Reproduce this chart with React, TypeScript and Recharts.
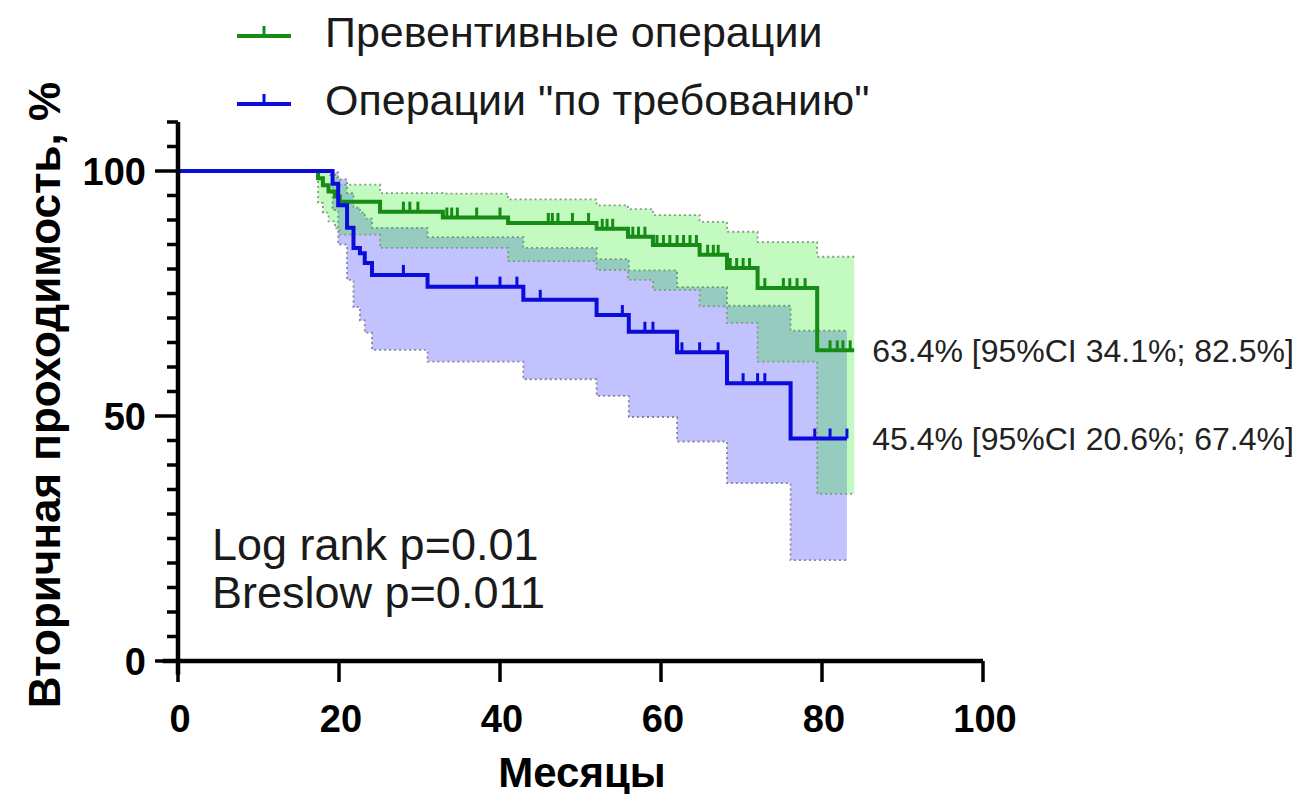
import React from 'react';
import { ComposedChart, Area, Line, Scatter, XAxis, YAxis, ReferenceLine, ReferenceDot } from 'recharts';

// Kaplan-Meier: preventive operations (green)
const greenTime = [0, 17.4, 18.0, 18.7, 19.5, 20.1, 25.1, 32.9, 41.0, 52.0, 55.9, 59.0, 64.8, 68.2, 72.0, 79.4, 84.0];
const greenSurv = [100, 98.5, 97.1, 95.8, 94.8, 93.7, 91.7, 90.5, 89.4, 88.2, 86.6, 84.9, 82.9, 80.2, 76.1, 63.4, 63.4];
const greenLow = [100, 93.5, 91.5, 89.7, 88.3, 87.0, 84.3, 84.3, 81.6, 79.8, 77.8, 75.7, 72.4, 69.0, 61.1, 34.1, 34.1];
const greenHigh = [100, 100, 99.7, 99.2, 98.6, 97.2, 95.5, 95.4, 94.2, 93.0, 92.2, 91.0, 89.6, 87.6, 85.5, 82.5, 82.5];

// operations "on demand" (blue)
const blueTime = [0, 19.2, 19.9, 21.0, 21.8, 22.6, 23.2, 24.1, 31.0, 42.9, 52.0, 56.0, 62.0, 68.2, 76.1, 83.1];
const blueSurv = [100, 97.4, 93.0, 88.4, 84.3, 83.2, 81.2, 78.8, 76.4, 73.7, 70.6, 67.2, 63.0, 56.7, 45.4, 45.4];
const blueLow = [100, 92.0, 85.0, 77.8, 72.2, 69.5, 67.0, 63.5, 61.1, 57.5, 54.1, 49.8, 44.8, 36.3, 20.6, 20.6];
const blueHigh = [100, 99.7, 98.3, 95.5, 92.5, 91.5, 90.3, 88.4, 86.5, 84.3, 82.0, 79.7, 76.3, 72.5, 67.4, 67.4];

// censored observations
const greenCensorTime = [28.0, 28.8, 29.8, 33.4, 34.0, 34.7, 37.1, 40.0, 46.0, 46.5, 47.2, 49.0, 51.0, 52.7, 53.3, 54.0, 56.5, 57.2, 58.0, 59.5, 60.3, 61.1, 62.0, 62.8, 63.6, 64.4, 65.8, 66.5, 67.1, 68.6, 69.4, 70.2, 71.0, 72.9, 75.2, 76.0, 76.9, 77.9, 81.0, 81.9, 82.6, 83.5];
const greenCensorSurv = [91.7, 91.7, 91.7, 90.5, 90.5, 90.5, 90.5, 90.5, 89.4, 89.4, 89.4, 89.4, 89.4, 88.2, 88.2, 88.2, 86.6, 86.6, 86.6, 84.9, 84.9, 84.9, 84.9, 84.9, 84.9, 84.9, 82.9, 82.9, 82.9, 80.2, 80.2, 80.2, 80.2, 76.1, 76.1, 76.1, 76.1, 76.1, 63.4, 63.4, 63.4, 63.4];
const blueCensorTime = [28.0, 37.1, 40.0, 42.1, 45.0, 55.2, 58.0, 59.0, 62.6, 64.8, 67.1, 70.2, 72.0, 72.9, 79.1, 81.0, 83.1];
const blueCensorSurv = [78.8, 76.4, 76.4, 76.4, 73.7, 70.6, 67.2, 67.2, 63.0, 63.0, 63.0, 56.7, 56.7, 56.7, 45.4, 45.4, 45.4];

const xTicks = [0, 20, 40, 60, 80, 100];
const yTicks = [0, 5, 10, 15, 20, 25, 30, 35, 40, 45, 50, 55, 60, 65, 70, 75, 80, 85, 90, 95, 100, 105, 110];

const GREEN = '#168c16';
const BLUE = '#0b0bdc';
const FONT = '"Liberation Sans", Arial, sans-serif';

const toRows = (t: number[], s: number[], lo: number[], hi: number[]) =>
  t.map((v, i) => ({ t: v, s: s[i], ci: [lo[i], hi[i]] }));
const toPoints = (t: number[], s: number[]) => t.map((v, i) => ({ t: v, s: s[i] }));

const greenData = toRows(greenTime, greenSurv, greenLow, greenHigh);
const blueData = toRows(blueTime, blueSurv, blueLow, blueHigh);
const greenCensors = toPoints(greenCensorTime, greenCensorSurv);
const blueCensors = toPoints(blueCensorTime, blueCensorSurv);

const YTick = (props: any) => {
  const { x, y, payload } = props;
  const major = payload.value % 50 === 0;
  return (
    <g>
      <line x1={x - (major ? 23 : 11)} x2={x} y1={y} y2={y} stroke="#000" strokeWidth={3.5} />
      {major && (
        <text x={x - 32} y={y} dy="0.36em" textAnchor="end" fontSize={38} fontWeight="bold" fontFamily={FONT} fill="#000">
          {payload.value}
        </text>
      )}
    </g>
  );
};

const XTick = (props: any) => {
  const { x, y, payload } = props;
  return (
    <g>
      <line x1={x} x2={x} y1={y} y2={y + 21} stroke="#000" strokeWidth={3.5} />
      <text x={x + 2} y={y + 71} textAnchor="middle" fontSize={38} fontWeight="bold" fontFamily={FONT} fill="#000">
        {payload.value}
      </text>
    </g>
  );
};

const censorShape = (color: string) => (props: any) => {
  const { cx, cy } = props;
  return <line x1={cx} x2={cx} y1={cy} y2={cy - 10} stroke={color} strokeWidth={3} />;
};

const LegendItem = ({ color, label, top }: { color: string; label: string; top: number }) => (
  <div style={{ position: 'absolute', left: 229, top: top - 25, height: 50, display: 'flex', alignItems: 'center' }}>
    <svg width={54} height={22} style={{ marginRight: 34 }}>
      <line x1={0} x2={54} y1={15} y2={15} stroke={color} strokeWidth={4} />
      <line x1={27} x2={27} y1={15} y2={5} stroke={color} strokeWidth={3} />
    </svg>
    <span style={{ fontFamily: FONT, fontSize: 43, color: '#1a1a1a', whiteSpace: 'nowrap' }}>{label}</span>
  </div>
);

export default function App() {
  return (
    <div style={{ position: 'relative', width: 1285, height: 786, background: '#fff' }}>
      <ComposedChart width={1285} height={786} margin={{ top: 114, right: 310, bottom: 23, left: 90 }}>
        <XAxis
          type="number"
          dataKey="t"
          domain={[0, 100]}
          ticks={xTicks}
          interval={0}
          height={110}
          axisLine={false}
          tickLine={false}
          tickSize={0}
          tickMargin={0}
          tick={<XTick />}
          allowDataOverflow
        />
        <YAxis
          type="number"
          domain={[0, 110]}
          ticks={yTicks}
          interval={0}
          width={80}
          axisLine={false}
          tickLine={false}
          tickSize={0}
          tickMargin={0}
          tick={<YTick />}
          allowDataOverflow
        />
        <Area
          data={blueData}
          dataKey="ci"
          type="stepAfter"
          fill="#0000ff"
          fillOpacity={0.24}
          stroke="#85859a"
          strokeWidth={1.8}
          strokeDasharray="2 3"
          isAnimationActive={false}
        />
        <Area
          data={greenData}
          dataKey="ci"
          type="stepAfter"
          fill="#10ec00"
          fillOpacity={0.25}
          stroke="#859a85"
          strokeWidth={1.8}
          strokeDasharray="2 3"
          isAnimationActive={false}
        />
        <Line data={greenData} dataKey="s" type="stepAfter" stroke={GREEN} strokeWidth={4} dot={false} isAnimationActive={false} />
        <Line data={blueData} dataKey="s" type="stepAfter" stroke={BLUE} strokeWidth={4} dot={false} isAnimationActive={false} />
        <Scatter data={greenCensors} dataKey="s" shape={censorShape(GREEN)} isAnimationActive={false} />
        <Scatter data={blueCensors} dataKey="s" shape={censorShape(BLUE)} isAnimationActive={false} />
        <ReferenceLine segment={[{ x: -1.9, y: 0 }, { x: 100, y: 0 }]} stroke="#000" strokeWidth={4.5} ifOverflow="visible" />
        <ReferenceLine segment={[{ x: 0, y: -2.8 }, { x: 0, y: 110 }]} stroke="#000" strokeWidth={4.5} ifOverflow="visible" />
        <ReferenceDot
          x={84}
          y={63.4}
          r={1}
          fill="none"
          stroke="none"
          ifOverflow="visible"
          label={{ value: '63.4% [95%CI 34.1%; 82.5%]', position: 'right', offset: 17, fill: '#222', fontSize: 32, fontFamily: FONT }}
        />
        <ReferenceDot
          x={84}
          y={45.4}
          r={1}
          fill="none"
          stroke="none"
          ifOverflow="visible"
          label={{ value: '45.4% [95%CI 20.6%; 67.4%]', position: 'right', offset: 17, fill: '#222', fontSize: 32, fontFamily: FONT }}
        />
      </ComposedChart>

      <LegendItem color={GREEN} label="Превентивные операции" top={24} />
      <LegendItem color={BLUE} label='Операции "по требованию"' top={92} />

      <div
        style={{
          position: 'absolute',
          left: 37,
          top: 387,
          transform: 'translate(-50%, -50%) rotate(-90deg)',
          fontFamily: FONT,
          fontWeight: 'bold',
          fontSize: 44,
          whiteSpace: 'nowrap',
          color: '#000',
        }}
      >
        Вторичная проходимость, %
      </div>
      <div
        style={{
          position: 'absolute',
          left: 574,
          top: 765,
          transform: 'translate(-50%, -50%)',
          fontFamily: FONT,
          fontWeight: 'bold',
          fontSize: 42,
          lineHeight: '48px',
          whiteSpace: 'nowrap',
          color: '#000',
        }}
      >
        Месяцы
      </div>

      <div style={{ position: 'absolute', left: 204, top: 513, fontFamily: FONT, fontSize: 45, lineHeight: '48px', color: '#1a1a1a', whiteSpace: 'nowrap' }}>
        Log rank p=0.01
        <br />
        Breslow p=0.011
      </div>
    </div>
  );
}
